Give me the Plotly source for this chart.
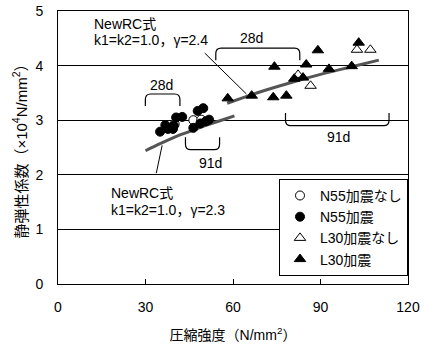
import plotly.graph_objects as go

# ---- data ----
n55_off_x = [40.0, 46.4, 49.1]
n55_off_y = [2.93, 3.00, 3.01]

n55_on_x = [35.0, 36.8, 37.7, 39.4, 39.7, 40.5, 42.6, 46.4, 47.9, 48.8, 49.8, 50.7, 51.8]
n55_on_y = [2.79, 2.91, 2.84, 2.84, 2.90, 3.05, 3.06, 2.86, 3.17, 2.94, 3.22, 2.98, 3.01]

l30_off_x = [82.3, 86.6, 102.5, 107.1]
l30_off_y = [3.83, 3.63, 4.29, 4.29]

l30_on_x = [58.2, 66.4, 73.8, 78.3, 74.2, 81.0, 84.0, 85.1, 89.1, 92.9, 100.7, 103.1]
l30_on_y = [3.40, 3.45, 3.42, 3.45, 3.98, 3.76, 3.78, 4.02, 4.28, 3.94, 3.99, 4.42]

# NewRC curves
rc23_x = [30, 35, 40, 45, 50, 55, 60.5]
rc23_y = [2.44, 2.57, 2.69, 2.79, 2.89, 2.98, 3.08]
rc24_x = [58, 65, 70, 80, 90, 100, 110]
rc24_y = [3.31, 3.44, 3.53, 3.69, 3.84, 3.97, 4.10]

x_ticks = [0, 30, 60, 90, 120]
y_ticks = [0, 1, 2, 3, 4, 5]

FONT = "Liberation Sans, Arial, Noto Sans CJK JP"

fig = go.Figure()

line_style = dict(color="#555555", width=3)
fig.add_trace(go.Scatter(x=rc23_x, y=rc23_y, mode="lines", line=dict(shape="spline", **line_style),
                         showlegend=False, hoverinfo="skip"))
fig.add_trace(go.Scatter(x=rc24_x, y=rc24_y, mode="lines", line=dict(shape="spline", **line_style),
                         showlegend=False, hoverinfo="skip"))

fig.add_trace(go.Scatter(x=n55_off_x, y=n55_off_y, mode="markers", name="N55加震なし",
                         marker=dict(symbol="circle", size=9, color="white",
                                     line=dict(color="black", width=1))))
fig.add_trace(go.Scatter(x=n55_on_x, y=n55_on_y, mode="markers", name="N55加震",
                         marker=dict(symbol="circle", size=9, color="black",
                                     line=dict(color="black", width=1))))
fig.add_trace(go.Scatter(x=l30_off_x, y=l30_off_y, mode="markers", name="L30加震なし",
                         marker=dict(symbol="triangle-up", size=10, color="white",
                                     line=dict(color="black", width=1))))
fig.add_trace(go.Scatter(x=l30_on_x, y=l30_on_y, mode="markers", name="L30加震",
                         marker=dict(symbol="triangle-up", size=10, color="black",
                                     line=dict(color="black", width=1))))


def bracket(x0, x1, ybase, yend, rx=1.8, ry=0.1):
    s = 1 if yend < ybase else -1  # ends go down (top bracket) or up
    return (f"M {x0},{yend} L {x0},{ybase - s*ry} Q {x0},{ybase} {x0 + rx},{ybase} "
            f"L {x1 - rx},{ybase} Q {x1},{ybase} {x1},{ybase - s*ry} L {x1},{yend}")


shapes = []
for (x0, x1, yb, ye) in [(29.95, 41.8, 3.48, 3.26),
                         (43.7, 55.4, 2.46, 2.69),
                         (54.1, 82.9, 4.32, 4.10),
                         (78.0, 113.5, 2.90, 3.13)]:
    shapes.append(dict(type="path", xref="x", yref="y", path=bracket(x0, x1, yb, ye),
                       line=dict(color="black", width=1.2)))
# leader lines
shapes.append(dict(type="line", xref="x", yref="y", x0=50.3, y0=4.23, x1=64.6, y1=3.48,
                   line=dict(color="black", width=1)))
shapes.append(dict(type="line", xref="x", yref="y", x0=33.7, y0=2.03, x1=35.7, y1=2.54,
                   line=dict(color="black", width=1)))

annotations = [
    dict(x=35.5, y=3.64, text="28d"),
    dict(x=52.4, y=2.22, text="91d"),
    dict(x=66.3, y=4.50, text="28d"),
    dict(x=96.0, y=2.70, text="91d"),
]
for a in annotations:
    a.update(xref="x", yref="y", showarrow=False, font=dict(size=14, color="black", family=FONT))

text_ann = [
    dict(x=11.5, y=4.77, text="NewRC式"),
    dict(x=11.5, y=4.46, text="k1=k2=1.0，γ=2.4"),
    dict(x=17.5, y=1.67, text="NewRC式"),
    dict(x=17.5, y=1.35, text="k1=k2=1.0，γ=2.3"),
]
for a in text_ann:
    a.update(xref="x", yref="y", showarrow=False, xanchor="left", yanchor="middle",
             font=dict(size=14, color="black", family=FONT))

fig.update_layout(
    width=425, height=345,
    margin=dict(l=58, r=17, t=11, b=61),
    paper_bgcolor="white", plot_bgcolor="white",
    font=dict(family=FONT, color="black", size=13),
    shapes=shapes,
    annotations=annotations + text_ann,
    legend=dict(x=1.0, xanchor="right", y=0.385, yanchor="top",
                bgcolor="white", bordercolor="black", borderwidth=1,
                font=dict(size=14, family=FONT, color="black"),
                tracegroupgap=0, itemwidth=30),
    xaxis=dict(range=[0, 120], tickvals=x_ticks, ticks="inside", ticklen=5, tickcolor="black",
               showgrid=False, zeroline=False, showline=True, linecolor="black", linewidth=1,
               mirror=True, tickfont=dict(size=14), ticklabelstandoff=10, automargin=False,
               title=dict(text="圧縮強度（N/mm<sup>2</sup>）", font=dict(size=14), standoff=16)),
    yaxis=dict(range=[0, 5], tickvals=y_ticks, ticks="inside", ticklen=5, tickcolor="black",
               showgrid=True, gridcolor="black", gridwidth=1, zeroline=False,
               showline=True, linecolor="black", linewidth=1, mirror=True,
               tickfont=dict(size=14), ticklabelstandoff=11, automargin=False,
               title=dict(text="静弾性係数（×10<sup>4</sup>N/mm<sup>2</sup>）", font=dict(size=15),
                          standoff=4)),
)

fig.write_html("out.html", config={"displayModeBar": False},
               post_script="document.body.style.margin='0';")
